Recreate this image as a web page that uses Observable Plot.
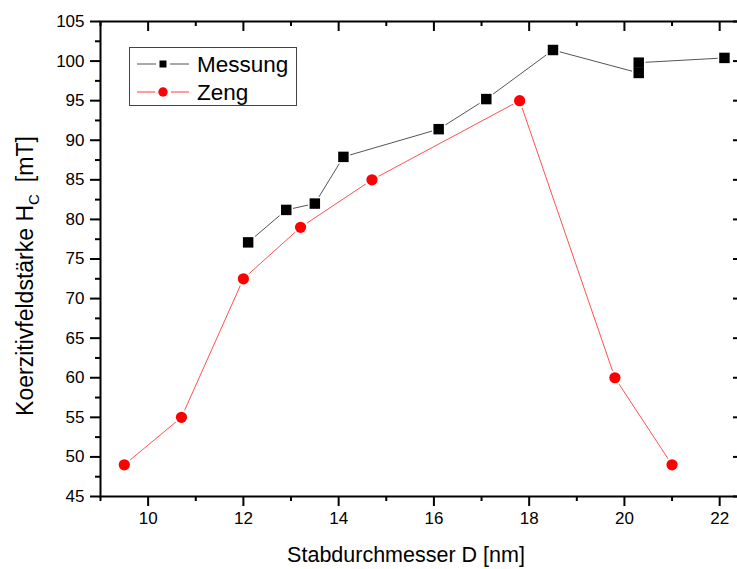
<!DOCTYPE html>
<html>
<head>
<meta charset="utf-8">
<script src="https://cdn.jsdelivr.net/npm/d3@7"></script>
<script src="https://cdn.jsdelivr.net/npm/@observablehq/plot@0.6"></script>
<style>
  html, body { margin: 0; padding: 0; background: white; overflow: hidden; }
  #chart { width: 737px; height: 569px; overflow: hidden; }
  #chart svg { max-width: none !important; }
</style>
</head>
<body>
<div id="chart"></div>
<script>
// ---- data ----
const messungD = [12.1, 12.9, 13.5, 14.1, 16.1, 17.1, 18.5, 20.3, 20.3, 22.1];
const messungH = [77.1, 81.2, 82.0, 87.9, 91.4, 95.2, 101.4, 98.5, 99.8, 100.4];
const zengD = [9.5, 10.7, 12.0, 13.2, 14.7, 17.8, 19.8, 21.0];
const zengH = [49.0, 55.0, 72.5, 79.0, 85.0, 95.0, 60.0, 49.0];
const xMajor = [10, 12, 14, 16, 18, 20, 22];
const xMinor = [9, 11, 13, 15, 17, 19, 21];
const yMajor = [45, 50, 55, 60, 65, 70, 75, 80, 85, 90, 95, 100, 105];
const yMinor = [47.5, 52.5, 57.5, 62.5, 67.5, 72.5, 77.5, 82.5, 87.5, 92.5, 97.5, 102.5];
const seriesNames = ["Messung", "Zeng"];
const xLabel = "Stabdurchmesser D [nm]";
const yLabelMain = "Koerzitivfeldstärke H";
const yLabelSub = "C";
const yLabelUnit = "[mT]";

const messung = messungD.map((d, i) => ({D: d, H: messungH[i]}));
const zeng = zengD.map((d, i) => ({D: d, H: zengH[i]}));

const W = 744, H = 569, mL = 100, mR = 1, mT = 21, mB = 73;
const plotW = W - mL - mR, plotH = H - mT - mB;
const font = "'Liberation Sans', Arial, sans-serif";

const chart = Plot.plot({
  width: W, height: H,
  marginLeft: mL, marginRight: mR, marginTop: mT, marginBottom: mB,
  x: {domain: [9, 22.5]},
  y: {domain: [45, 105]},
  style: {fontFamily: font, background: "white", color: "black", overflow: "visible", maxWidth: "none"},
  marks: [
    Plot.line(zeng, {x: "D", y: "H", stroke: "#ff3c3c", strokeWidth: 0.9}),
    Plot.line(messung, {x: "D", y: "H", stroke: "#555", strokeWidth: 1}),
    Plot.dot(zeng, {x: "D", y: "H", r: 7.5, fill: "white"}),
    Plot.dot(messung, {x: "D", y: "H", symbol: "square", r: 7.6, fill: "white"}),
    Plot.dot(zeng, {x: "D", y: "H", r: 5.6, fill: "#ff0000"}),
    Plot.dot(messung, {x: "D", y: "H", symbol: "square", r: 5.9, fill: "black"}),
    // bottom axis
    Plot.axisX({ticks: xMajor, tickSize: 10, tickPadding: 5, fontSize: 17, strokeWidth: 2, label: null, tickFormat: d => String(d)}),
    Plot.axisX({ticks: xMinor, tickSize: 5, strokeWidth: 2, text: null, label: null}),
    // left axis
    Plot.axisY({ticks: yMajor, tickSize: 10, tickPadding: 6, fontSize: 17, strokeWidth: 2, label: null, tickFormat: d => String(d)}),
    Plot.axisY({ticks: yMinor, tickSize: 5, strokeWidth: 2, text: null, label: null}),
    // top inward ticks
    Plot.tickX(xMajor, {x: d => d, insetBottom: plotH - 10, strokeWidth: 2}),
    Plot.tickX(xMinor, {x: d => d, insetBottom: plotH - 5, strokeWidth: 2}),
    // right inward ticks
    Plot.tickY(yMajor, {y: d => d, insetLeft: plotW - 10, strokeWidth: 2}),
    Plot.tickY(yMinor, {y: d => d, insetLeft: plotW - 5, strokeWidth: 2}),
    Plot.frame({stroke: "black", strokeWidth: 2})
  ]
});

document.getElementById("chart").appendChild(chart);

const svg = d3.select(chart);
// axis labels
svg.append("text")
  .attr("x", 406).attr("y", 562)
  .attr("text-anchor", "middle")
  .style("font-family", font).style("font-size", "21.5px").attr("fill", "black")
  .text(xLabel);

const yl = svg.append("text")
  .attr("transform", "translate(33,276) rotate(-90)")
  .attr("text-anchor", "middle")
  .style("font-family", font).style("font-size", "23px").attr("fill", "black");
yl.append("tspan").text(yLabelMain);
yl.append("tspan").attr("dy", 6).style("font-size", "15px").text(yLabelSub);
yl.append("tspan").attr("dy", -6).attr("dx", 12).text(yLabelUnit);

// legend
const lg = svg.append("g").attr("text-anchor", "start");
lg.append("rect").attr("x", 129.5).attr("y", 47.5).attr("width", 167).attr("height", 58)
  .attr("fill", "white").attr("stroke", "#444").attr("stroke-width", 1);
const entries = [
  {name: seriesNames[0], y: 64, line: "#555", fill: "black", sym: "square"},
  {name: seriesNames[1], y: 92, line: "#ff3c3c", fill: "#ff0000", sym: "circle"}
];
for (const e of entries) {
  lg.append("line").attr("x1", 137).attr("x2", 189).attr("y1", e.y).attr("y2", e.y)
    .attr("stroke", e.line).attr("stroke-width", 1);
  if (e.sym === "square") {
    lg.append("rect").attr("x", 156).attr("y", e.y - 7).attr("width", 14).attr("height", 14).attr("fill", "white");
    lg.append("rect").attr("x", 159.5).attr("y", e.y - 3.5).attr("width", 7).attr("height", 7).attr("fill", e.fill);
  } else {
    lg.append("circle").attr("cx", 163).attr("cy", e.y).attr("r", 8).attr("fill", "white");
    lg.append("circle").attr("cx", 163).attr("cy", e.y).attr("r", 4.7).attr("fill", e.fill);
  }
  lg.append("text").attr("x", 197).attr("y", e.y + 7.5).attr("text-anchor", "start")
    .style("font-family", font).style("font-size", "22.5px").attr("fill", "black")
    .text(e.name);
}
</script>
</body>
</html>
